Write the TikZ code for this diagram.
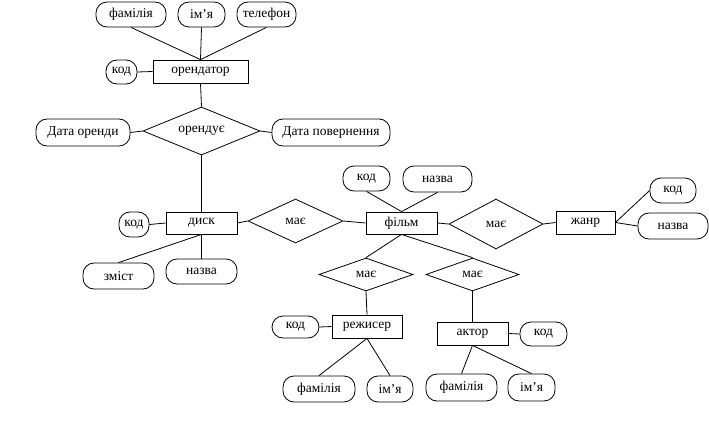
\documentclass[tikz,border=0pt]{standalone}
\usepackage{fontspec}
\setmainfont{Liberation Serif}
\usetikzlibrary{shapes.geometric}
\begin{document}
\begin{tikzpicture}[x=1pt,y=-1pt,line width=0.8pt,
  txt/.style={font=\fontsize{13.5}{15}\selectfont},
  attr/.style={txt,draw,rectangle,rounded corners=11pt,inner sep=0pt},
  ent/.style={txt,draw,rectangle,inner sep=0pt},
  rel/.style={txt,draw,diamond,inner sep=0pt,aspect=2}]
\useasboundingbox (0,0) rectangle (709,425);
% орендатор
\node[attr,minimum width=70pt,minimum height=25pt] (ofam) at (131,14.5) {фамілія};
\node[attr,minimum width=47pt,minimum height=25pt] (oim) at (201.5,14.5) {ім’я};
\node[attr,minimum width=59pt,minimum height=25pt] (otel) at (266.5,14.5) {телефон};
\node[ent,minimum width=95pt,minimum height=23pt] (orend) at (200.5,71.5) {орендатор};
\node[attr,minimum width=31pt,minimum height=24pt] (okod) at (121.5,72) {код};
\node[rel,minimum width=117pt,minimum height=48pt] (rent) at (201.5,131) {орендує};
\node[attr,minimum width=94pt,minimum height=27pt] (dor) at (83,132.5) {Дата оренди};
\node[attr,minimum width=118pt,minimum height=27pt] (dpov) at (331,132.5) {Дата повернення};
% диск
\node[ent,minimum width=71pt,minimum height=22pt] (disk) at (201.5,223) {диск};
\node[attr,minimum width=30pt,minimum height=25pt] (dkod) at (134,224.5) {код};
\node[attr,minimum width=71pt,minimum height=26pt] (zmist) at (118.5,276) {зміст};
\node[attr,minimum width=71pt,minimum height=25pt] (dnazva) at (201.5,271.5) {назва};
\node[rel,minimum width=95pt,minimum height=44pt] (has1) at (295.5,221) {має};
% фільм
\node[ent,minimum width=71pt,minimum height=22pt] (film) at (401.5,223) {фільм};
\node[attr,minimum width=47pt,minimum height=25pt] (fkod) at (366.5,178.5) {код};
\node[attr,minimum width=69pt,minimum height=26pt] (fnazva) at (437.5,179) {назва};
\node[rel,minimum width=94pt,minimum height=50pt] (has2) at (496,224) {має};
% жанр
\node[ent,minimum width=59pt,minimum height=23pt] (zhanr) at (585.5,222.5) {жанр};
\node[attr,minimum width=46pt,minimum height=25pt] (zkod) at (673,190.5) {код};
\node[attr,minimum width=70pt,minimum height=26pt] (znazva) at (673,226) {назва};
% режисер, актор
\node[rel,minimum width=94pt,minimum height=33pt] (has3) at (366,274.5) {має};
\node[rel,minimum width=93pt,minimum height=33pt] (has4) at (472.5,274.5) {має};
\node[ent,minimum width=70pt,minimum height=23pt] (rezh) at (367,326.5) {режисер};
\node[attr,minimum width=47pt,minimum height=22pt] (rkod) at (295.5,327) {код};
\node[attr,minimum width=72pt,minimum height=26pt] (rfam) at (319,389) {фамілія};
\node[attr,minimum width=46pt,minimum height=26pt] (rim) at (390,389) {ім’я};
\node[ent,minimum width=71pt,minimum height=23pt] (aktor) at (472.5,333.5) {актор};
\node[attr,minimum width=47pt,minimum height=24pt] (akod) at (543.5,334) {код};
\node[attr,minimum width=71pt,minimum height=27pt] (afam) at (461.5,387.5) {фамілія};
\node[attr,minimum width=47pt,minimum height=27pt] (aim) at (531.5,387.5) {ім’я};
% connectors
\draw (ofam.south) -- (orend.north);
\draw (oim.south) -- (orend.north);
\draw (otel.south) -- (orend.north);
\draw (okod.east) -- (orend.west);
\draw (orend.south) -- (rent.north);
\draw (dor.east) -- (rent.west);
\draw (dpov.west) -- (rent.east);
\draw (rent.south) -- (disk.north);
\draw (dkod.east) -- (disk.west);
\draw (disk.south) -- (zmist.north);
\draw (disk.south) -- (dnazva.north);
\draw (disk.east) -- (has1.west);
\draw (has1.east) -- (film.west);
\draw (fkod.south) -- (film.north);
\draw (fnazva.south) -- (film.north);
\draw (film.east) -- (has2.west);
\draw (has2.east) -- (zhanr.west);
\draw (zhanr.east) -- (zkod.west);
\draw (zhanr.east) -- (znazva.west);
\draw (film.south) -- (has3.north);
\draw (film.south) -- (has4.north);
\draw (has3.south) -- (rezh.north);
\draw (has4.south) -- (aktor.north);
\draw (rkod.east) -- (rezh.west);
\draw (rezh.south) -- (rfam.north);
\draw (rezh.south) -- (rim.north);
\draw (aktor.east) -- (akod.west);
\draw (aktor.south) -- (afam.north);
\draw (aktor.south) -- (aim.north);
\end{tikzpicture}
\end{document}
